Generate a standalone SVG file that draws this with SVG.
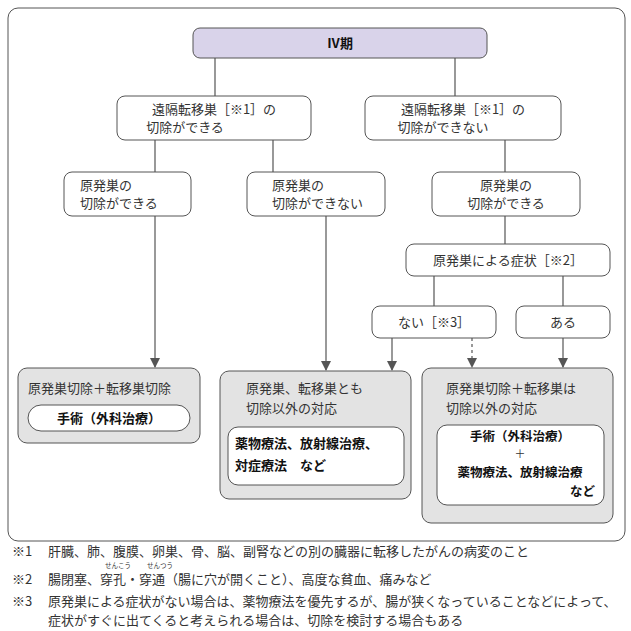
<svg xmlns="http://www.w3.org/2000/svg" width="631" height="631" viewBox="0 0 631 631">
<defs>
<marker id="ah" viewBox="0 0 10 10" refX="9" refY="5" markerWidth="10" markerHeight="10" markerUnits="userSpaceOnUse" orient="auto"><path d="M0,0 L10,5 L0,10 z" fill="#555"/></marker>
</defs>
<style>
text{font-family:"Noto Sans CJK JP","Noto Sans",sans-serif;font-size:13px;fill:#333}
.n{fill:#fff;stroke:#555;stroke-width:1}
.g{fill:#e3e3e3;stroke:#555;stroke-width:1}
.b{font-weight:bold;fill:#111}
.c{fill:none;stroke:#555;stroke-width:1.2}
.m{text-anchor:middle}
</style>
<rect x="8" y="8" width="617" height="533" rx="10" fill="#fff" stroke="#555"/>
<g id="connectors">
<path class="c" d="M215,58V96M455,58V96M155,140V172M273,140V172M505,140V172M505,216V244M434,276V306M563,276V306"/>
<path class="c" d="M155,216V367" marker-end="url(#ah)"/>
<path class="c" d="M326,216V370" marker-end="url(#ah)"/>
<path class="c" d="M392,338V370" marker-end="url(#ah)"/>
<path class="c" d="M472,338V367" stroke-dasharray="3,3" marker-end="url(#ah)"/>
<path class="c" d="M563,338V367" marker-end="url(#ah)"/>
</g>
<g id="top"><rect x="193" y="28" width="294" height="30" rx="7" fill="#d9d3ea" stroke="#555"/><text class="m b" x="340" y="48">Ⅳ期</text></g>
<g id="n1"><rect class="n" x="117" y="96" width="194" height="44" rx="8"/><text class="m" x="214" y="114">遠隔転移巣［※1］の</text><text class="m" x="185" y="132">切除ができる</text></g>
<g id="n2"><rect class="n" x="365" y="96" width="196" height="44" rx="8"/><text class="m" x="463" y="114">遠隔転移巣［※1］の</text><text class="m" x="443" y="132">切除ができない</text></g>
<g id="n3"><rect class="n" x="64" y="172" width="127" height="44" rx="8"/><text x="80" y="190">原発巣の</text><text x="80" y="208">切除ができる</text></g>
<g id="n4"><rect class="n" x="247" y="172" width="138" height="44" rx="8"/><text x="272" y="190">原発巣の</text><text x="272" y="208">切除ができない</text></g>
<g id="n5"><rect class="n" x="432" y="172" width="148" height="44" rx="8"/><text class="m" x="506" y="190">原発巣の</text><text class="m" x="506" y="208">切除ができる</text></g>
<g id="n6"><rect class="n" x="406" y="244" width="204" height="32" rx="8"/><text class="m" x="508" y="265">原発巣による症状［※2］</text></g>
<g id="n7"><rect class="n" x="372" y="306" width="124" height="32" rx="8"/><text class="m" x="434" y="327">ない［※3］</text></g>
<g id="n8"><rect class="n" x="516" y="306" width="94" height="32" rx="8"/><text class="m" x="563" y="327">ある</text></g>
<g id="r1"><rect class="g" x="18" y="368" width="182" height="75" rx="9"/><text x="28" y="393">原発巣切除＋転移巣切除</text><rect class="n" x="28" y="405" width="162" height="26" rx="13"/><text class="m b" x="109" y="423">手術（外科治療）</text></g>
<g id="r2"><rect class="g" x="220" y="371" width="191" height="128" rx="9"/><text x="246" y="393">原発巣、転移巣とも</text><text x="246" y="413">切除以外の対応</text><rect class="n" x="228" y="427" width="176" height="58" rx="10"/><text class="b" x="235" y="448">薬物療法、放射線治療、</text><text class="b" x="235" y="470">対症療法　など</text></g>
<g id="r3"><rect class="g" x="422" y="368" width="191" height="155" rx="9"/><text x="446" y="393">原発巣切除＋転移巣は</text><text x="446" y="413">切除以外の対応</text><rect class="n" x="437" y="425" width="167" height="80" rx="10"/><text class="m b" x="520" y="441" style="font-size:12.5px">手術（外科治療）</text><text class="m" x="520" y="458" style="font-size:11px">＋</text><text class="m b" x="520" y="477" style="font-size:12.5px">薬物療法、放射線治療</text><text class="b" x="595" y="496" text-anchor="end" style="font-size:12.5px">など</text></g>
<g id="notes">
<text x="12" y="556">※1</text><text x="48" y="556">肝臓、肺、腹膜、卵巣、骨、脳、副腎などの別の臓器に転移したがんの病変のこと</text>
<text x="12" y="584">※2</text><text x="48" y="584">腸閉塞、穿孔・穿通（腸に穴が開くこと）、高度な貧血、痛みなど</text>
<text x="105" y="568" style="font-size:6.5px">せんこう</text><text x="147" y="568" style="font-size:6.5px">せんつう</text>
<text x="12" y="606">※3</text><text x="48" y="606">原発巣による症状がない場合は、薬物療法を優先するが、腸が狭くなっていることなどによって、</text>
<text x="48" y="625">症状がすぐに出てくると考えられる場合は、切除を検討する場合もある</text>
</g>
</svg>
